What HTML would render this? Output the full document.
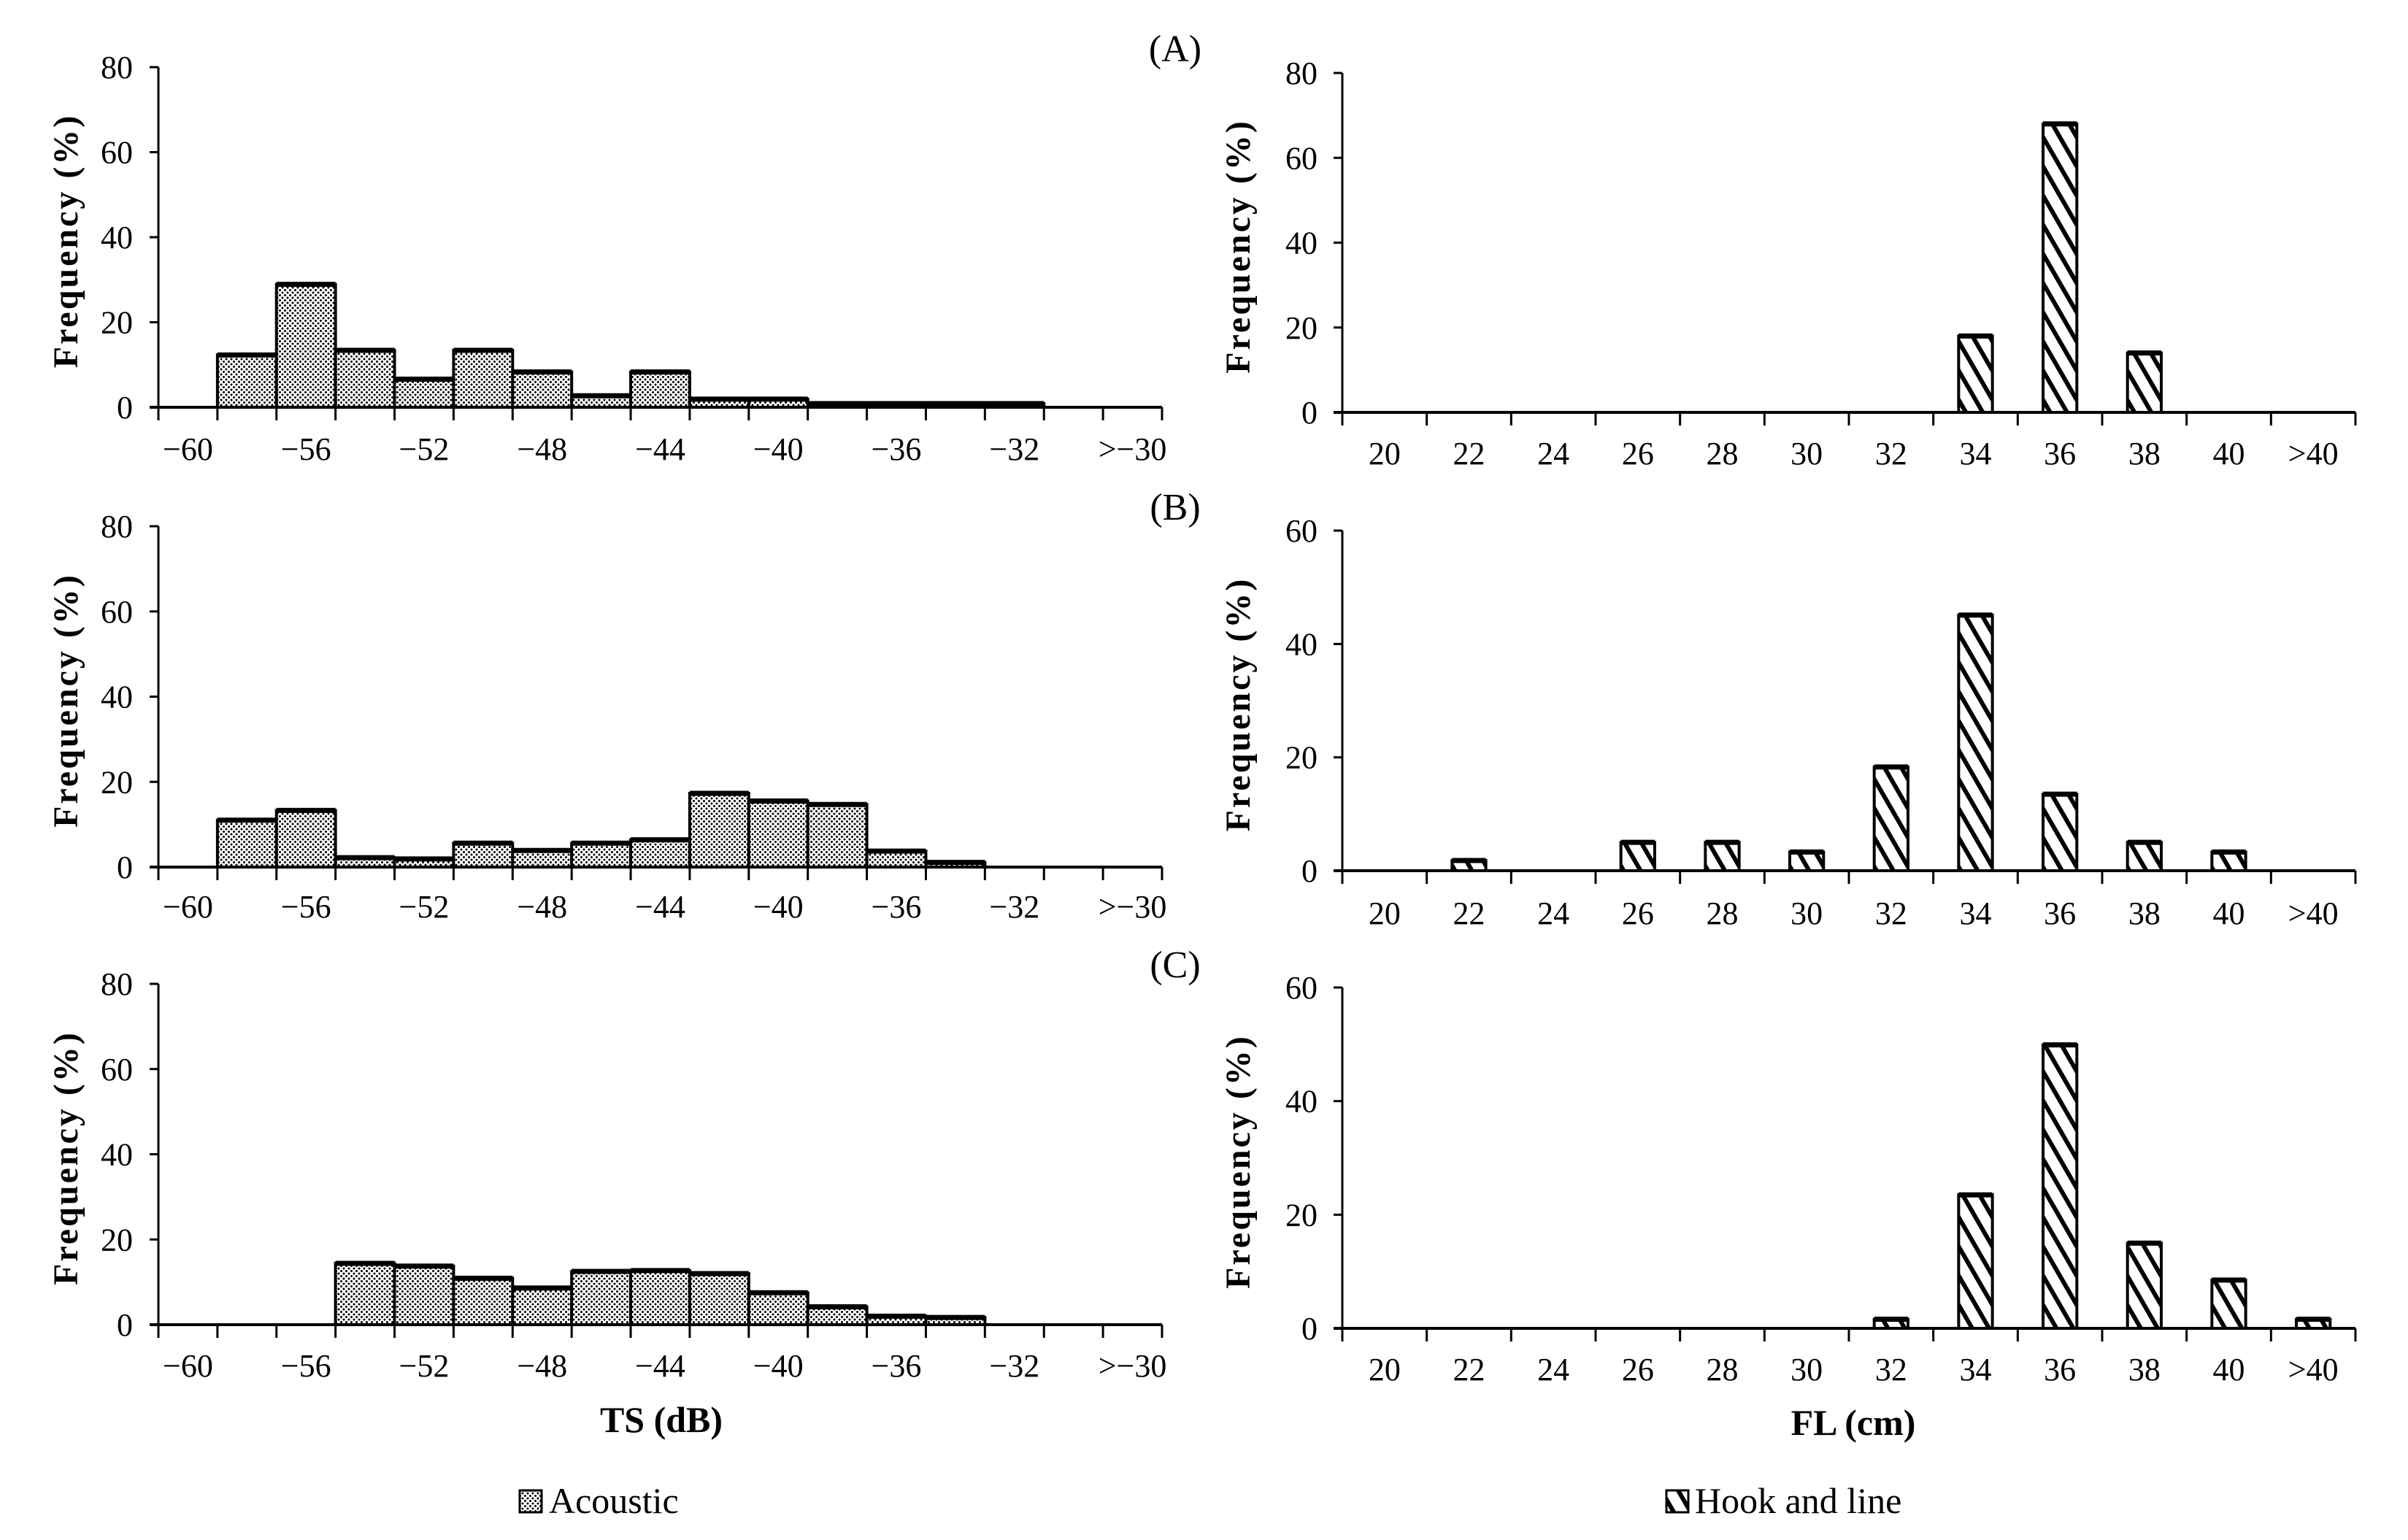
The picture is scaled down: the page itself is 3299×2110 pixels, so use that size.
<!DOCTYPE html>
<html><head><meta charset="utf-8"><style>
html,body{margin:0;padding:0;background:#fff}
svg{display:block}
text{font-family:"Liberation Serif",serif;fill:#000}
</style></head><body>
<svg id="fig" width="3299" height="2110" viewBox="0 0 3299 2110" xmlns="http://www.w3.org/2000/svg">
<defs>
<pattern id="dots" width="7" height="7" patternUnits="userSpaceOnUse"><rect width="7" height="7" fill="#fff"/><circle cx="2" cy="2" r="1.5" fill="#000"/><circle cx="5.5" cy="5.5" r="1.5" fill="#000"/></pattern>
<pattern id="hatch" width="20" height="20" patternUnits="userSpaceOnUse" patternTransform="rotate(60)"><rect width="20" height="20" fill="#fff"/><line x1="0" y1="10" x2="20" y2="10" stroke="#000" stroke-width="6"/></pattern>
</defs>
<g id="root"></g>
<text x="1610" y="84" font-size="52" text-anchor="middle">(A)</text>
<text x="1610" y="712" font-size="52" text-anchor="middle">(B)</text>
<text x="1610" y="1339" font-size="52" text-anchor="middle">(C)</text>
<text x="906" y="1962" font-size="50" font-weight="bold" text-anchor="middle">TS (dB)</text>
<text x="2539" y="1966" font-size="50" font-weight="bold" text-anchor="middle">FL (cm)</text>
<g>
<rect x="712" y="2042" width="30" height="30" fill="url(#dots)" stroke="#000" stroke-width="3"/>
<text x="752" y="2073" font-size="50">Acoustic</text></g>
<g>
<rect x="2283" y="2042" width="30" height="30" fill="url(#hatch)" stroke="#000" stroke-width="3"/>
<text x="2322" y="2073" font-size="50">Hook and line</text></g>
</svg>
<script>
const tsCategories = ["-60","-58","-56","-54","-52","-50","-48","-46","-44","-42","-40","-38","-36","-34","-32","-30",">-30"];
const tsTickLabels = ["\u221260","","\u221256","","\u221252","","\u221248","","\u221244","","\u221240","","\u221236","","\u221232","",">\u221230"];
const acousticA = [0,12.3,28.9,13.4,6.6,13.4,8.3,2.7,8.3,1.9,1.9,0.85,0.85,0.85,0.85,0,0];
const acousticB = [0,11,13.3,2.2,1.9,5.6,3.9,5.6,6.4,17.3,15.5,14.7,3.75,1.1,0,0,0];
const acousticC = [0,0,0,14.4,13.75,10.9,8.6,12.5,12.7,12.0,7.5,4.2,2.0,1.7,0,0,0];
const flCategories = ["20","22","24","26","28","30","32","34","36","38","40",">40"];
const hookA = [0,0,0,0,0,0,0,18,68,14,0,0];
const hookB = [0,1.8,0,5,5,3.3,18.3,45.1,13.5,5,3.3,0];
const hookC = [0,0,0,0,0,0,1.6,23.5,49.9,15,8.5,1.6];
const leftYTicks = [0,20,40,60,80];
const rightYTicksA = [0,20,40,60,80];
const rightYTicksBC = [0,20,40,60];

const NS="http://www.w3.org/2000/svg";
const root=document.getElementById('root');
function mk(tag,attrs,parent){const e=document.createElementNS(NS,tag);for(const k in attrs)e.setAttribute(k,attrs[k]);(parent||root).appendChild(e);return e;}

function panel(name,cfg){
  const g=mk('g',{});
  
  
  const n=cfg.cats.length, bw=(cfg.x1-cfg.x0)/n;
  const xs=i=>cfg.x0+i*bw;
  const ys=v=>cfg.y0-(v/cfg.max)*(cfg.y0-cfg.yTop);
  cfg.values.forEach((v,i)=>{
    if(v<=0)return;
    let x,w;
    if(cfg.hist){x=xs(i);w=bw;}else{w=bw*0.4;x=xs(i)+(bw-w)/2;}
    const r=mk('rect',{x:x,y:ys(v),width:w,height:cfg.y0-ys(v),fill:cfg.fill,stroke:'#000','stroke-width':4},g);
    
    
    const t=mk('line',{x1:x,x2:x+w,y1:ys(v),y2:ys(v),stroke:'#000','stroke-width':7},g);
    
    
  });
  const ya=mk('line',{x1:cfg.x0,x2:cfg.x0,y1:cfg.yTop,y2:cfg.y0,stroke:'#000','stroke-width':3},g);
  
  
  const xa=mk('line',{x1:cfg.x0-12,x2:cfg.x1,y1:cfg.y0,y2:cfg.y0,stroke:'#000','stroke-width':4},g);
  
  
  cfg.yticks.forEach(v=>{
    mk('line',{x1:cfg.x0-12,x2:cfg.x0,y1:ys(v),y2:ys(v),stroke:'#000','stroke-width':3},g);
    const t=mk('text',{x:cfg.ylx,y:ys(v)+15,'font-size':44,'text-anchor':'end'},g);
    t.textContent=v;
    
    
  });
  for(let i=0;i<=n;i++) mk('line',{x1:xs(i),x2:xs(i),y1:cfg.y0,y2:cfg.y0+18,stroke:'#000','stroke-width':3},g);
  cfg.labels.forEach((l,i)=>{
    if(!l)return;
    const t=mk('text',{x:xs(i)+bw/2,y:cfg.lby+2,'font-size':44,'text-anchor':'middle'},g);
    t.textContent=l;
    
    
  });
  const yt=mk('text',{x:0,y:0,'font-size':48,'font-weight':'bold','text-anchor':'middle','letter-spacing':'3',transform:`translate(${cfg.ytx},${(cfg.y0+cfg.yTop)/2+5}) rotate(-90)`},g);
  yt.textContent='Frequency (%)';
  
  
}
const L={x0:217,x1:1592,cats:tsCategories,labels:tsTickLabels,hist:true,fill:'url(#dots)',max:80,yticks:leftYTicks,ylx:182,ytx:106};
panel('acoustic-panel-a',Object.assign({},L,{values:acousticA,yTop:92,y0:558,lby:628}));
panel('acoustic-panel-b',Object.assign({},L,{values:acousticB,yTop:721,y0:1188,lby:1255}));
panel('acoustic-panel-c',Object.assign({},L,{values:acousticC,yTop:1348,y0:1815,lby:1884}));
const R={x0:1839,x1:3227,cats:flCategories,labels:flCategories,hist:false,fill:'url(#hatch)',ylx:1805,ytx:1712};
panel('hook-panel-a',Object.assign({},R,{values:hookA,yTop:100,y0:565,max:80,yticks:rightYTicksA,lby:634}));
panel('hook-panel-b',Object.assign({},R,{values:hookB,yTop:727,y0:1193,max:60,yticks:rightYTicksBC,lby:1264}));
panel('hook-panel-c',Object.assign({},R,{values:hookC,yTop:1353,y0:1820,max:60,yticks:rightYTicksBC,lby:1889}));
</script>
</body></html>
